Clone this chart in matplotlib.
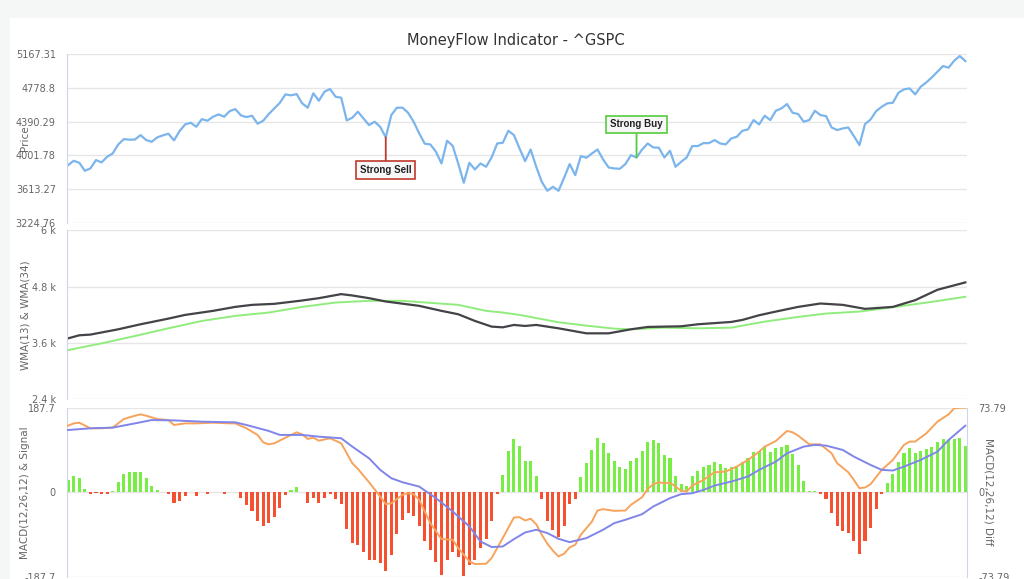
import matplotlib.pyplot as plt
from matplotlib.patches import Rectangle

# weekly close, one value per bar
price = [3890, 3940, 3917, 3825, 3852, 3948, 3921, 3986, 4024, 4128, 4189, 4182, 4185, 4235, 4178,
         4159, 4209, 4232, 4251, 4174, 4281, 4358, 4377, 4331, 4419, 4400, 4446,
         4473, 4446, 4511, 4534, 4462, 4442, 4458, 4366, 4400, 4477, 4542, 4607, 4703, 4692, 4707,
         4600, 4550, 4715, 4630, 4734, 4765, 4676, 4665, 4404, 4435, 4504,
         4427, 4350, 4389, 4331, 4209, 4466, 4550, 4550, 4492, 4389, 4255, 4136, 4128, 4044, 3909,
         4170, 4113, 3909, 3687, 3917, 3840, 3909, 3871, 3978, 4139, 4147, 4285,
         4235, 4082, 3936, 4070, 3871, 3698, 3595, 3641, 3595, 3744, 3902, 3775, 3994, 3975, 4024,
         4070, 3955, 3863, 3852, 3848, 3902, 4005, 3978, 4070, 4139, 4093,
         4090, 3978, 4055, 3871, 3928, 3978, 4109, 4109, 4143, 4143, 4178, 4139, 4128, 4197, 4216,
         4285, 4300, 4408, 4358, 4458, 4408, 4515, 4542, 4592, 4492, 4477, 4389,
         4408, 4515, 4465, 4454, 4323, 4293, 4312, 4323, 4224, 4120, 4362, 4415, 4511, 4561, 4600,
         4607, 4722, 4761, 4772, 4703, 4792, 4841, 4899, 4964, 5029, 5010, 5090, 5144, 5086]

wma13_idx = [0, 2, 4, 9, 13, 18, 21, 26, 30, 33, 37, 42, 45, 49, 51, 54, 57, 63, 67, 70, 73, 76,
             78, 80, 82, 84, 88, 93, 97, 101, 104, 110, 113, 119, 121, 124, 127, 131, 135, 139,
             143, 148, 152, 156, 161]
wma13 = [3700, 3765, 3780, 3893, 4000, 4121, 4200, 4286, 4371, 4414, 4436, 4507, 4557, 4643, 4614,
         4557, 4486, 4393, 4286, 4214, 4071, 3950, 3935, 3986, 3964, 3986, 3914, 3807, 3807, 3893,
         3943, 3957, 4000, 4050, 4093, 4193, 4271, 4371, 4443, 4414, 4329, 4371, 4514, 4736, 4893]

wma34_idx = [0, 6, 12, 18, 24, 30, 36, 42, 48, 54, 60, 65, 70, 75, 78, 81, 88, 93, 98, 101, 107,
             113, 119, 125, 131, 136, 142, 149, 155, 161]
wma34 = [3450, 3593, 3750, 3914, 4071, 4179, 4250, 4371, 4464, 4500, 4500, 4457, 4414, 4286, 4250,
         4200, 4043, 3971, 3907, 3893, 3928, 3914, 3928, 4057, 4157, 4229, 4271, 4379, 4479, 4586]

macd_diff = [26, 36, 31, 7, -4, -1, -4, -3, 3, 22, 40, 44, 44, 45, 31, 14, 4, 0,
             -3, -23, -19, -9, 0, -9, 0, -3, 0, 0, -5, 0, 0,
             -12, -29, -41, -65, -76, -69, -55, -34, -7, 4, 12, 0,
             -25, -12, -23, -13, -3, -15, -26, -81, -112, -117, -132, -150, -151, -157, -176,
             -139, -93, -61, -47, -52, -74, -109, -128, -154, -183, -151, -132, -145, -187, -161,
             -151, -124, -103, -65, -4,
             38, 92, 118, 103, 69, 69, 36, -14, -65, -84, -100, -76, -27, -14,
             34, 64, 94, 120, 110, 86, 69, 55, 52, 69, 75, 92, 112, 115, 109, 83, 75, 35, 18, 14,
             35, 46, 57, 61, 66, 62, 53, 57, 59, 68, 77, 90, 92, 101, 89, 98, 101, 105, 84, 61, 25, 3, 3,
             -4, -16, -47, -74, -87, -91, -108, -137, -109, -80, -38, -3,
             21, 40, 68, 88, 99, 88, 92, 96, 101, 111, 118, 116, 118, 120, 103]

macd_idx = [0, 1, 2, 4, 6, 8, 10, 12, 13, 14, 16, 18, 19, 21, 23, 26, 29, 30, 32, 34, 35, 36, 37,
            39, 41, 42, 43, 44, 45, 47, 49, 50, 51, 52, 54, 56, 57, 58, 60, 61, 62, 63, 65, 67, 69,
            70, 72, 73, 75, 76, 78, 80, 81, 82, 83, 84, 85, 86, 87, 88, 89, 90, 91, 92, 94, 95, 96,
            98, 100, 101, 103, 104, 105, 106, 107, 108, 109, 110, 111, 112, 114, 116, 118, 120, 122,
            124, 125, 127, 129, 130, 131, 133, 135, 137, 138, 140, 141, 142, 143, 144, 146, 148, 150,
            151, 152, 154, 156, 158, 159, 160, 161]
macd = [58.1, 60.1, 60.7, 55.8, 55.8, 56.4, 63.9, 66.8, 68.0, 66.8, 63.9, 63.0, 58.7, 60.1, 60.1,
        60.7, 60.1, 60.1, 55.8, 50.0, 43.6, 41.8, 42.7, 47.6, 52.3, 50.5, 46.5, 47.6, 45.0, 47.1,
        42.7, 34.0, 25.3, 20.3, 8.7, -3.8, -10.5, -9.6, -2.3, -0.9, -1.7, -6.7, -27.0, -41.0, -41.5,
        -48.8, -60.4, -62.7, -62.5, -57.5, -40.0, -22.1, -21.8, -24.7, -23.2, -28.0, -37.2, -45.0,
        -51.1, -56.1, -53.7, -48.2, -45.9, -37.2, -25.6, -16.0, -14.8, -16.3, -16.0, -11.0, -4.4,
        2.9, 7.0, 8.7, 7.8, 8.4, 4.9, 1.2, 0.6, 5.8, 10.7, 17.4, 18.0, 22.4, 28.2, 35.4, 39.8, 44.7,
        53.5, 52.3, 49.4, 41.8, 41.8, 34.0, 25.3, 17.4, 10.7, 3.5, 4.1, 7.0, 19.5, 28.2, 41.3, 44.2,
        44.2, 51.4, 61.6, 68.0, 73.2, 73.8, 73.8]

signal_idx = [0, 4, 8, 12, 15, 19, 24, 30, 32, 36, 38, 42, 45, 49, 51, 54, 56, 58, 60, 63, 66, 69,
              72, 74, 76, 78, 80, 82, 84, 86, 88, 90, 93, 96, 98, 100, 103, 105, 108, 110, 112, 114,
              116, 119, 122, 124, 127, 129, 132, 134, 136, 139, 141, 144, 146, 148, 150, 153, 156,
              158, 161]
signal = [54.3, 55.8, 56.4, 60.1, 63.0, 62.7, 61.6, 61.0, 58.7, 53.5, 50.0, 50.0, 48.5, 47.1, 39.8,
          29.6, 19.5, 12.2, 8.7, 4.9, -5.2, -16.8, -29.9, -43.0, -47.9, -47.4, -41.0, -35.2, -32.8,
          -35.7, -40.7, -43.6, -40.1, -32.8, -27.0, -24.1, -19.2, -12.5, -5.2, -1.7, -0.9, 2.0, 5.8,
          9.3, 13.7, 19.5, 26.7, 34.0, 39.8, 41.3, 40.7, 36.9, 31.1, 23.8, 19.5, 18.9, 22.4, 28.2,
          35.4, 45.6, 58.1]

sell_idx = 57
buy_idx = 102

price_ticks = [3224.76, 3613.27, 4001.78, 4390.29, 4778.8, 5167.31]
wma_ticks = [2400, 3600, 4800, 6000]
wma_labels = ['2.4 k', '3.6 k', '4.8 k', '6 k']
diff_ticks = [-187.7, 0, 187.7]
diff_labels = ['-187.7', '0', '187.7']
macd_ticks = [-73.79, 0, 73.79]
macd_labels = ['-73.79', '0', '73.79']

W, H = 1024, 579
fig = plt.figure(figsize=(W / 100, H / 100), dpi=100, facecolor='#f5f6f6')
fig.patches.append(Rectangle((10 / W, 0), 1, 1 - 18 / H, transform=fig.transFigure,
                             facecolor='white', edgecolor='none', zorder=-5))

L, PW = 67 / W, 900 / W
ax1 = fig.add_axes([L, 1 - 223 / H, PW, 169 / H])
ax2 = fig.add_axes([L, 1 - 399.3 / H, PW, 168.8 / H])
ax3 = fig.add_axes([L, 1 - 576.7 / H, PW, 169 / H])
ax3r = ax3.twinx()

def style(ax):
    ax.set_facecolor('none')
    for s in ['top', 'right', 'bottom']:
        ax.spines[s].set_visible(False)
    ax.spines['left'].set_color('#ccd6eb')
    ax.grid(axis='y', color='#e6e6e6', lw=1)
    ax.set_axisbelow(True)
    ax.tick_params(axis='y', length=0, labelsize=7, labelcolor='#666666', pad=8)
    ax.tick_params(axis='x', bottom=False, labelbottom=False)
    ax.set_xlim(-0.2, 161.3)

for ax in (ax1, ax2, ax3):
    style(ax)

x = list(range(len(price)))

# price panel
ax1.plot(x, price, color='#7cb5ec', lw=1.6)
ax1.set_ylim(price_ticks[0], price_ticks[-1])
ax1.set_yticks(price_ticks)
ax1.set_yticklabels([f'{t:g}' for t in price_ticks])
ax1.set_ylabel('Price', fontsize=7.5, color='#666666')
ax1.yaxis.set_label_coords(-0.041, 0.5)

flag = dict(textcoords='offset pixels', ha='center', va='center', fontsize=7,
            fontweight='bold', family='Liberation Sans', color='#222222')
ax1.annotate('Strong Sell', xy=(sell_idx, price[sell_idx]), xytext=(0, -33),
             bbox=dict(boxstyle='square,pad=0.4', fc='#f7f7f7', ec='#c0392b', lw=1.2),
             arrowprops=dict(arrowstyle='-', color='#c0392b', lw=1.3, shrinkA=0, shrinkB=0),
             **flag)
ax1.annotate('Strong Buy', xy=(buy_idx, price[buy_idx]), xytext=(0, 33),
             bbox=dict(boxstyle='square,pad=0.4', fc='#f7f7f7', ec='#55cc3c', lw=1.2),
             arrowprops=dict(arrowstyle='-', color='#55cc3c', lw=1.3, shrinkA=0, shrinkB=0),
             **flag)

# WMA panel
ax2.plot(wma34_idx, wma34, color='#90ed7d', lw=1.4)
ax2.plot(wma13_idx, wma13, color='#434348', lw=1.6)
ax2.set_ylim(2400, 6000)
ax2.set_yticks(wma_ticks)
ax2.set_yticklabels(wma_labels)
ax2.set_ylabel('WMA(13) & WMA(34)', fontsize=7.5, color='#666666')
ax2.yaxis.set_label_coords(-0.041, 0.5)

# MACD panel
colors = ['#77ee44' if v >= 0 else '#f5502f' for v in macd_diff]
ax3.bar(x, macd_diff, width=0.55, color=colors)
ax3.set_ylim(-187.7, 187.7)
ax3.set_yticks(diff_ticks)
ax3.set_yticklabels(diff_labels)
ax3.set_ylabel('MACD(12,26,12) & Signal', fontsize=7.5, color='#666666')
ax3.yaxis.set_label_coords(-0.041, 0.5)

ax3r.plot(macd_idx, macd, color='#f7a35c', lw=1.4)
ax3r.plot(signal_idx, signal, color='#8085e9', lw=1.4)
ax3r.set_ylim(-73.79, 73.79)
ax3r.set_yticks(macd_ticks)
ax3r.set_yticklabels(macd_labels)
for s in ['top', 'left', 'bottom']:
    ax3r.spines[s].set_visible(False)
ax3r.spines['right'].set_color('#ccd6eb')
ax3r.tick_params(axis='y', length=0, labelsize=7, labelcolor='#666666', pad=8)
ax3r.set_ylabel('MACD(12,26,12) Diff', fontsize=7.5, color='#666666', rotation=270)
ax3r.yaxis.set_label_coords(1.029, 0.5)
ax3r.set_xlim(-0.2, 161.3)

fig.text(516 / W, 1 - 40 / H, 'MoneyFlow Indicator - ^GSPC', ha='center', va='center',
         fontsize=10.5, color='#333333')

fig.savefig('out.png', dpi=100, facecolor=fig.get_facecolor())
